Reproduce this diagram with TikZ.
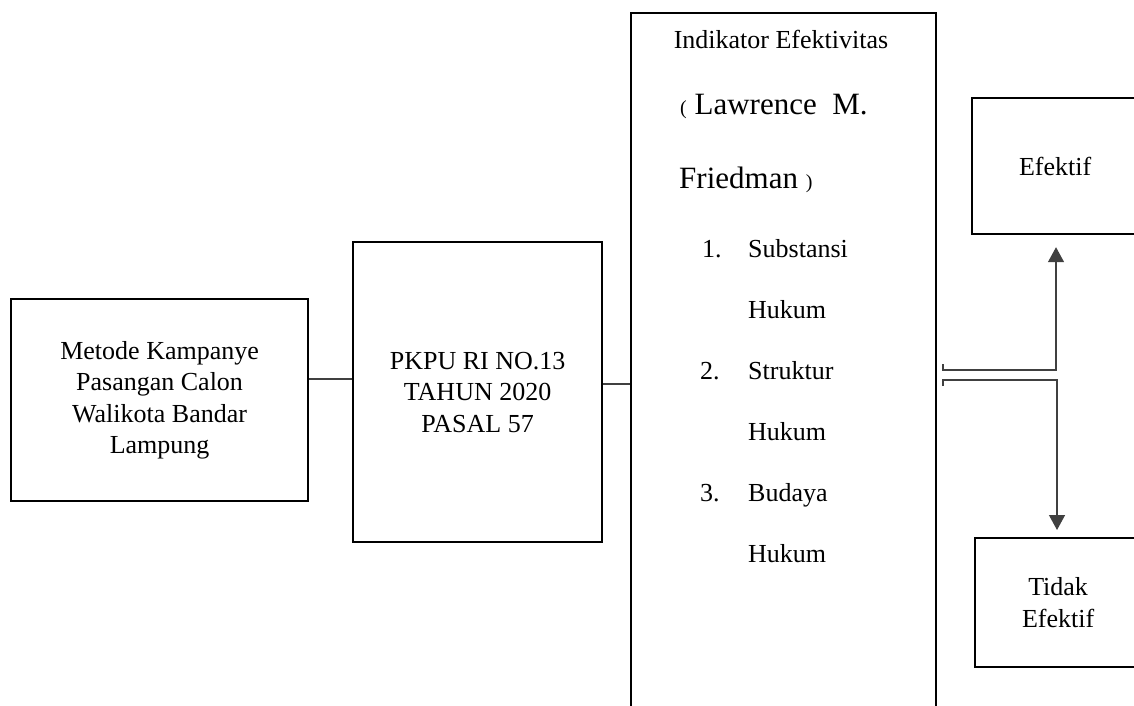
\documentclass[tikz,border=0pt]{standalone}
\usepackage{fontspec}
\setmainfont{Liberation Serif}
\usetikzlibrary{arrows.meta}
\begin{document}
\begin{tikzpicture}[x=1pt,y=-1pt,
  box/.style={draw=black,line width=2.2pt,anchor=north west,inner sep=0pt,align=center,
    font=\fontsize{26}{31.5}\selectfont},
  txt/.style={inner sep=0pt,anchor=base west,font=\fontsize{26}{31.5}\selectfont},
  big/.style={inner sep=0pt,anchor=base west,font=\fontsize{31}{36}\selectfont},
  conn/.style={draw=black!75,line width=1.3pt},
  arr/.style={-{Triangle[width=16pt,length=15pt]}}]
\useasboundingbox (0,0) rectangle (1134,706);
\fill[white] (0,0) rectangle (1134,706);
% boxes
\node[box,minimum width=297pt,minimum height=202pt] (b1) at (10,298)
  {Metode Kampanye\\Pasangan Calon\\Walikota Bandar\\Lampung};
\node[box,minimum width=249pt,minimum height=300pt] (b2) at (352,241)
  {PKPU RI NO.13\\TAHUN 2020\\PASAL 57};
\node[box,minimum width=305pt,minimum height=710pt] (b3) at (630,12) {};
\node[box,minimum width=166pt,minimum height=136pt] (ef) at (971,97) {Efektif};
\node[box,minimum width=166pt,minimum height=129pt] (td) at (974,537) {Tidak\\Efektif};
% text in the indicator box
\node[txt,anchor=base] (ind) at (781,49) {Indikator Efektivitas};
\node[big] (law) at (680,114) {{\fontsize{20}{24}\selectfont(} Lawrence\ \ M.};
\node[big] (fri) at (679,188) {Friedman {\fontsize{20}{24}\selectfont)}};
\node[txt] (n1) at (702,257) {1.};
\node[txt] (s1) at (748,257) {Substansi};
\node[txt] (h1) at (748,318) {Hukum};
\node[txt] (n2) at (700,379) {2.};
\node[txt] (s2) at (748,379) {Struktur};
\node[txt] (h2) at (748,440) {Hukum};
\node[txt] (n3) at (700,501) {3.};
\node[txt] (s3) at (748,501) {Budaya};
\node[txt] (h3) at (748,562) {Hukum};
% connectors
\coordinate (y1) at (0,379);
\coordinate (y2) at (0,384);
\draw[conn] (b1.east |- y1) -- (b2.west |- y1);
\draw[conn] (b2.east |- y2) -- (b3.west |- y2);
\coordinate (t1) at (943,364);
\coordinate (k1) at (1056,370);
\coordinate (t2) at (943,386);
\coordinate (k2) at (1057,380);
\draw[conn,arr] (t1) -- (t1 |- k1) -- (k1) -- ([yshift=-12pt]ef.south -| k1);
\draw[conn,arr] (t2) -- (t2 |- k2) -- (k2) -- ([yshift=7pt]td.north -| k2);
\end{tikzpicture}
\end{document}
